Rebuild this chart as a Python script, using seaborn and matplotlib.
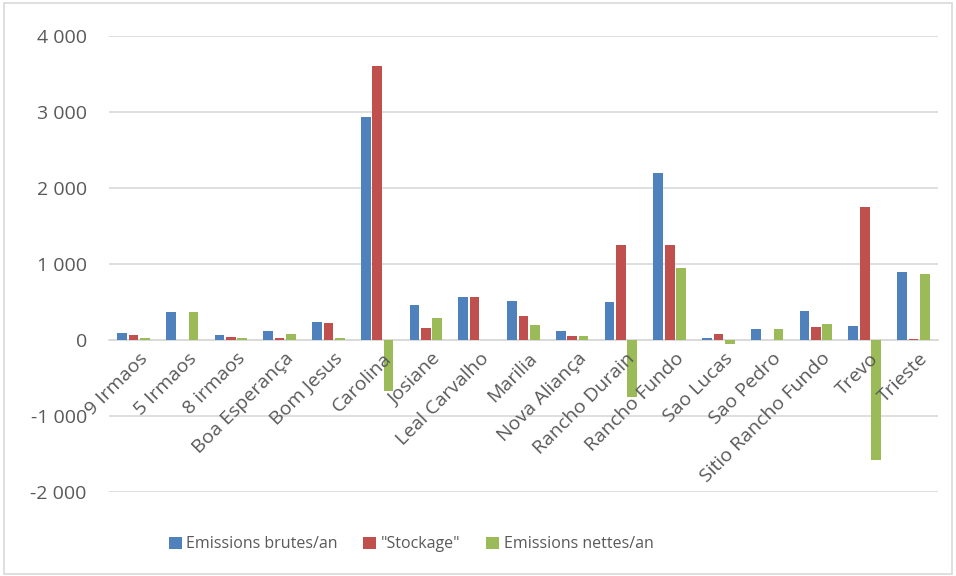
import pandas as pd
import numpy as np
import matplotlib.pyplot as plt
import matplotlib.transforms as mtransforms
import seaborn as sns
from matplotlib.ticker import FuncFormatter
from matplotlib.patches import Rectangle

# Données
sites = ['9 Irmaos', '5 Irmaos', '8 irmaos', 'Boa Esperança', 'Bom Jesus', 'Carolina',
         'Josiane', 'Leal Carvalho', 'Marilia', 'Nova Aliança', 'Rancho Durain',
         'Rancho Fundo', 'Sao Lucas', 'Sao Pedro', 'Sitio Rancho Fundo', 'Trevo', 'Trieste']
emissions_brutes = [96, 372, 65, 122, 240, 2925, 455, 560, 517, 110, 504, 2200, 26, 140, 385, 184, 895]
stockage = [70, 0, 40, 30, 215, 3600, 162, 570, 315, 53, 1250, 1250, 79, 0, 171, 1750, 17]
emissions_nettes = [20, 372, 20, 83, 20, -667, 285, 0, 193, 44, -755, 950, -57, 140, 214, -1575, 868]

series_names = ['Emissions brutes/an', '"Stockage"', 'Emissions nettes/an']
colors = ['#4f81bd', '#c0504d', '#9bbb59']

df = pd.DataFrame({
    'site': sites * 3,
    'serie': np.repeat(series_names, len(sites)),
    'valeur': emissions_brutes + stockage + emissions_nettes,
})

sns.set_style('white')
plt.rcParams['font.family'] = ['Open Sans', 'DejaVu Sans']

fig = plt.figure(figsize=(9.56, 5.76), dpi=100)
ax = fig.add_axes([0.114, 0.146, 0.867, 0.792])

sns.barplot(data=df, x='site', y='valeur', hue='serie', palette=colors, saturation=1,
            width=0.7, gap=0.15, linewidth=0, ax=ax, zorder=2)

ax.set_ylim(-2000, 4000)
ax.set_yticks(range(-2000, 4001, 1000))
ax.yaxis.set_major_formatter(FuncFormatter(lambda v, p: f'{int(v):,}'.replace(',', ' ')))
ax.yaxis.grid(True, color='#d9d9d9', linewidth=1.2)
ax.set_axisbelow(True)
ax.xaxis.set_zorder(5)  # étiquettes par-dessus les barres
ax.set_xlim(-0.5, len(sites) - 0.5)

for s in ['top', 'right', 'left']:
    ax.spines[s].set_visible(False)
ax.spines['bottom'].set_position(('data', 0))
ax.spines['bottom'].set_color('#d9d9d9')
ax.spines['bottom'].set_linewidth(1.2)
ax.spines['bottom'].set_zorder(1)

ax.tick_params(axis='y', length=0, labelsize=14, labelcolor='#595959', pad=16)
ax.tick_params(axis='x', length=0, labelsize=14, labelcolor='#595959', pad=7)
plt.setp(ax.get_xticklabels(), rotation=45, ha='right', rotation_mode='anchor')
decalage = mtransforms.ScaledTranslation(5 / 100, 0, fig.dpi_scale_trans)
for lbl in ax.get_xticklabels():
    lbl.set_transform(lbl.get_transform() + decalage)

ax.set_xlabel('')
ax.set_ylabel('')

ax.get_legend().remove()
handles, labels = ax.get_legend_handles_labels()
fig.legend(handles, labels, loc='center', bbox_to_anchor=(0.43, 0.055), ncol=3, frameon=False,
           fontsize=11.5, labelcolor='#595959', handlelength=0.8, handleheight=0.8,
           handletextpad=0.3, columnspacing=1.6)

# bordure du graphique
fig.patches.append(Rectangle((0.004, 0.004), 0.992, 0.99, transform=fig.transFigure,
                             fill=False, edgecolor='#d9d9d9', linewidth=1.2))

fig.savefig('out.png', dpi=100)
